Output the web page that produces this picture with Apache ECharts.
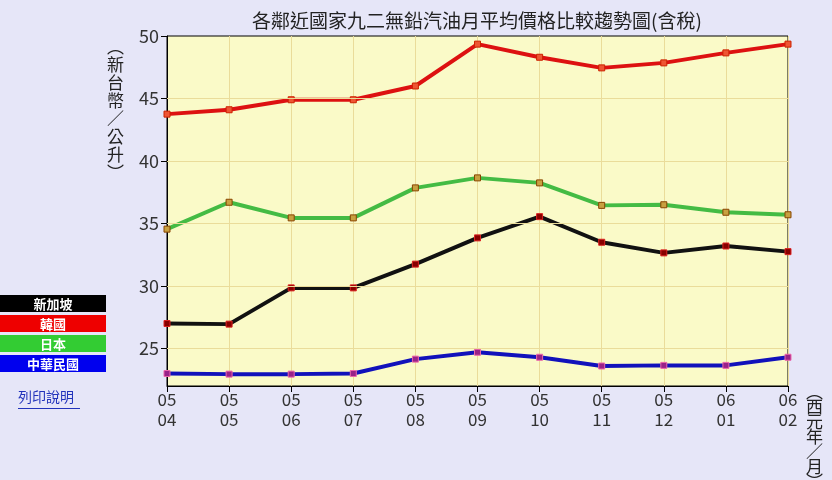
<!DOCTYPE html>
<html><head><meta charset="utf-8">
<script src="https://cdn.jsdelivr.net/npm/echarts@6/dist/echarts.min.js"></script>
<style>html,body{margin:0;padding:0;background:#E6E6F8;}#c{width:832px;height:480px;}</style>
</head><body><div id="c"></div>
<script>
const categories = ['05\n04','05\n05','05\n06','05\n07','05\n08','05\n09','05\n10','05\n11','05\n12','06\n01','06\n02'];
const singapore = [27.0, 26.95, 29.85, 29.85, 31.75, 33.85, 35.55, 33.5, 32.65, 33.2, 32.75];
const korea = [43.75, 44.1, 44.9, 44.9, 46.0, 49.35, 48.3, 47.45, 47.85, 48.65, 49.35];
const japan = [34.55, 36.7, 35.45, 35.45, 37.85, 38.65, 38.25, 36.45, 36.5, 35.9, 35.7];
const taiwan = [23.0, 22.95, 22.95, 23.0, 24.15, 24.7, 24.3, 23.6, 23.65, 23.65, 24.3];
const yTicks = [25, 30, 35, 40, 45, 50];
const legendNames = ['新加坡', '韓國', '日本', '中華民國'];

const font = '"Noto Sans CJK TC", "Noto Sans", sans-serif';
const chart = echarts.init(document.getElementById('c'));
function ser(name, data, color, mFill, mBorder){
  return {name, type:'line', data, symbol:'rect', symbolSize:6,
    lineStyle:{color, width:4}, itemStyle:{color:mFill, borderColor:mBorder, borderWidth:1},
    emphasis:{disabled:true}, animation:false};
}
const legendColors = ['#000000','#EE0000','#33CC33','#0000EE'];
const graphic = [];
legendNames.forEach((n,i)=>{
  graphic.push({type:'rect', x:0, y:295+i*20, shape:{width:106,height:17}, style:{fill:legendColors[i]}});
  graphic.push({type:'text', x:53, y:295+i*20+9, style:{text:n, fill:'#fff', font:'bold 13px '+font, align:'center', verticalAlign:'middle'}});
});
chart.setOption({
  backgroundColor:'#E6E6F8',
  title:{text:'各鄰近國家九二無鉛汽油月平均價格比較趨勢圖(含稅)', left:247, top:6,
    textStyle:{fontFamily:font, fontSize:19, fontWeight:'normal', color:'#222'}},
  grid:{left:167, right:44, top:36, bottom:94, show:true, backgroundColor:'#FAFAC8', borderColor:'#000', borderWidth:1},
  xAxis:{type:'category', data:categories, boundaryGap:false,
    axisLine:{lineStyle:{color:'#000'}}, axisTick:{show:true, length:6, lineStyle:{color:'#000'}},
    axisLabel:{fontFamily:font, fontSize:17, color:'#333', lineHeight:20, margin:4},
    splitLine:{show:true, lineStyle:{color:'#EADC9A', width:1}}},
  yAxis:{type:'value', min:22, max:50,
    axisLine:{show:true, lineStyle:{color:'#000'}},
    axisTick:{show:true, length:6, customValues:yTicks, lineStyle:{color:'#000'}},
    axisLabel:{customValues:yTicks, fontFamily:font, fontSize:18, color:'#333', margin:8},
    splitLine:{show:false}},
  series:[
    ser('新加坡', singapore, '#111111', '#880000', '#DD2222'),
    ser('韓國', korea, '#DD1111', '#EE5533', '#CC2200'),
    ser('日本', japan, '#44BB44', '#C8A040', '#884400'),
    ser('中華民國', taiwan, '#1111BB', '#992288', '#EE66AA'),
    {type:'line', data:[], markLine:{silent:true, symbol:'none', label:{show:false}, animation:false,
      lineStyle:{color:'#EADC9A', width:1, type:'solid'},
      data:yTicks.slice(0,5).map(v=>({yAxis:v}))}}
  ],
  graphic: graphic.concat([
    {type:'text', left:107, top:38, style:{text:'︵\n新\n台\n幣\n／\n公\n升\n︶', fill:'#222', font:'17px '+font, lineHeight:18}},
    {type:'text', left:806, top:383, style:{text:'︵\n西\n元\n年\n／\n月\n︶', fill:'#222', font:'17px '+font, lineHeight:15}},
    {type:'text', left:18, top:390, style:{text:'列印說明', fill:'#2233BB', font:'14px '+font}},
    {type:'rect', left:18, top:408, shape:{width:62,height:1}, style:{fill:'#2233BB'}}
  ])
});
</script></body></html>
